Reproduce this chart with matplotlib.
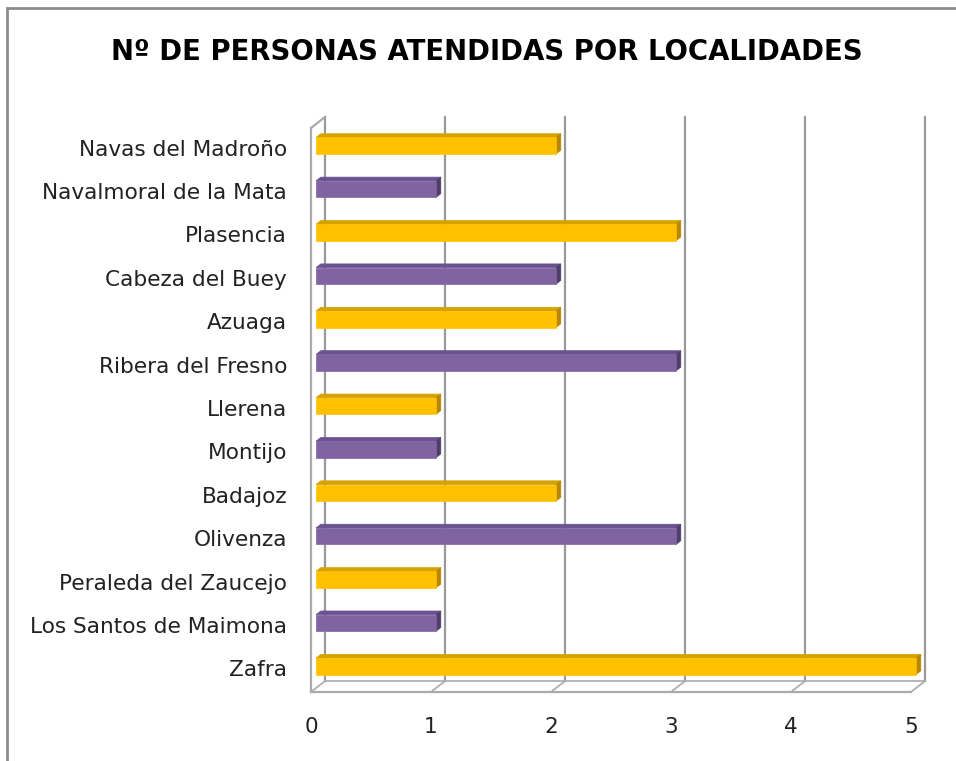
import matplotlib
matplotlib.use('Agg')
import matplotlib.pyplot as plt
from matplotlib.patches import Polygon, Rectangle

# data (bottom to top, as drawn)
localidades = ["Zafra", "Los Santos de Maimona", "Peraleda del Zaucejo", "Olivenza",
               "Badajoz", "Montijo", "Llerena", "Ribera del Fresno", "Azuaga",
               "Cabeza del Buey", "Plasencia", "Navalmoral de la Mata", "Navas del Madroño"]
personas = [5, 1, 1, 3, 2, 1, 1, 3, 2, 2, 3, 1, 2]
ticks = [0, 1, 2, 3, 4, 5]
titulo = "Nº DE PERSONAS ATENDIDAS POR LOCALIDADES"

# 3d look: front face colour, top face, side face
yellow = ("#FFC000", "#D6A200", "#B58800")
purple = ("#8064A2", "#6A5290", "#4F3D6A")
grid_c = "#999999"

W, H = 956, 761
fig = plt.figure(figsize=(W / 100, H / 100), dpi=100)
# front plane of the plot box in pixels: x 311..911, y 128..692
ax = fig.add_axes([311 / W, (H - 692) / H, 600 / W, 564 / H])
ax.set_xlim(0, 5)
ax.set_ylim(-0.5, 12.5)
ax.axis('off')

# depth vector in data units (14 px right, 11 px up)
dx = 14 / 120.0
dy = 11 / (564 / 13.0)

# frame around the chart area (only left/top visible)
fig.patches.append(Rectangle((7 / W, -0.1), 1.2, 1 - 8 / H + 0.1, transform=fig.transFigure,
                             fill=False, ec="#8C8C8C", lw=2))

# back wall gridlines
for t in ticks:
    ax.plot([t + dx, t + dx], [-0.5 + dy, 12.5 + dy], color=grid_c, lw=1.6, clip_on=False, zorder=1)

# floor
ax.plot([0, 5], [-0.5, -0.5], color="#AAAAAA", lw=1.6, clip_on=False, zorder=1)
ax.plot([dx, 5 + dx], [-0.5 + dy, -0.5 + dy], color="#AAAAAA", lw=1.2, clip_on=False, zorder=1)
for t in ticks:
    ax.plot([t, t + dx], [-0.5, -0.5 + dy], color="#AAAAAA", lw=1.2, clip_on=False, zorder=1)

# left wall
ax.plot([0, 0], [-0.5, 12.5], color="#AAAAAA", lw=1.6, clip_on=False, zorder=1)
ax.plot([0, dx], [12.5, 12.5 + dy], color="#AAAAAA", lw=1.6, clip_on=False, zorder=1)

# bars
f0, f1 = 0.36, 0.70
bh = 0.38
for i, v in enumerate(personas):
    cols = yellow if i % 2 == 0 else purple
    yb, yt = i - bh / 2, i + bh / 2
    ox0, oy0 = f0 * dx, f0 * dy
    ox1, oy1 = f1 * dx, f1 * dy
    front = [(ox0, yb + oy0), (v + ox0, yb + oy0), (v + ox0, yt + oy0), (ox0, yt + oy0)]
    top = [(ox0, yt + oy0), (v + ox0, yt + oy0), (v + ox1, yt + oy1), (ox1, yt + oy1)]
    side = [(v + ox0, yb + oy0), (v + ox1, yb + oy1), (v + ox1, yt + oy1), (v + ox0, yt + oy0)]
    for pts, c in [(top, cols[1]), (side, cols[2]), (front, cols[0])]:
        ax.add_patch(Polygon(pts, closed=True, fc=c, ec=c, lw=0.5, clip_on=False, zorder=3))

# category labels
for i, name in enumerate(localidades):
    ax.text(-0.2, i, name, ha='right', va='center', fontsize=15.6, color="#222222", clip_on=False)

# value axis labels
for t in ticks:
    ax.text(t, -1.3, str(t), ha='center', va='center', fontsize=15.6, color="#222222", clip_on=False)

fig.text(487 / W, 1 - 52 / H, titulo, ha='center', va='center', fontsize=19.8,
         fontweight='bold', color="black")

fig.savefig("out.png", dpi=100, facecolor="white")
